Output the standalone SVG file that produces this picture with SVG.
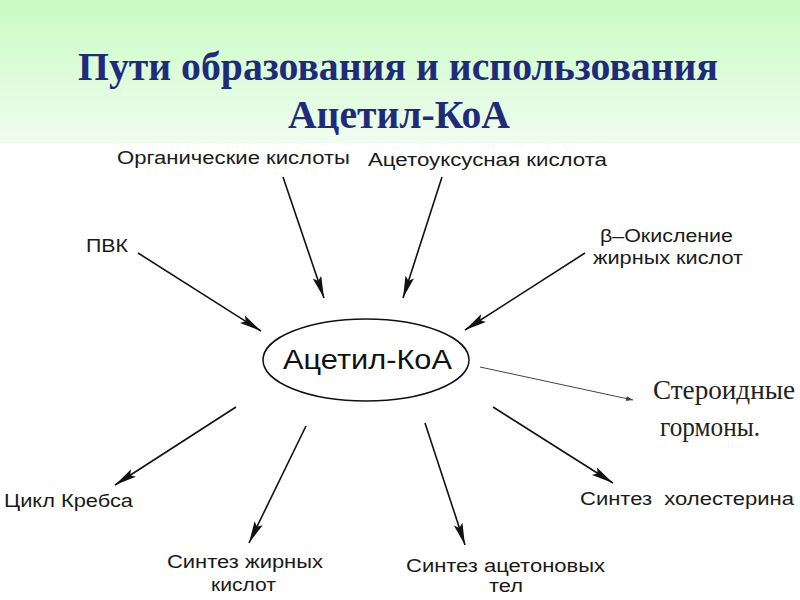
<svg xmlns="http://www.w3.org/2000/svg" width="800" height="600" viewBox="0 0 800 600">
<defs>
<linearGradient id="bg" x1="0" y1="0" x2="0" y2="1">
<stop offset="0" stop-color="#c8fcc2"/>
<stop offset="1" stop-color="#f0fdf0"/>
</linearGradient>
<marker id="ah" markerUnits="userSpaceOnUse" markerWidth="24" markerHeight="10" refX="22" refY="4.5" orient="auto">
<path d="M0,0 L22,4.5 L0,9 L4,4.5 z" fill="#111"/>
</marker>
<marker id="ahs" markerUnits="userSpaceOnUse" markerWidth="8" markerHeight="6" refX="7" refY="2.5" orient="auto">
<path d="M0,0 L7,2.5 L0,5 z" fill="#444"/>
</marker>
</defs>
<style>
.title{font-family:"Liberation Serif","Times New Roman",serif;font-weight:bold;font-size:41px;fill:#1f2a7a}
.lbl{font-family:"Liberation Sans",Arial,sans-serif;font-size:17.5px;fill:#1a1a1a}
.ser{font-family:"Liberation Serif","Times New Roman",serif;font-size:27px;fill:#222}
.arr{stroke:#111;stroke-width:1.6;fill:none;marker-end:url(#ah)}
.thin{stroke:#444;stroke-width:1;fill:none;marker-end:url(#ahs)}
</style>
<rect x="0" y="0" width="800" height="600" fill="#ffffff"/>
<rect x="0" y="0" width="800" height="143" fill="url(#bg)"/>
<g id="title">
<text class="title" x="78" y="80" textLength="640" lengthAdjust="spacingAndGlyphs">Пути образования и использования</text>
<text class="title" x="288" y="128" textLength="222" lengthAdjust="spacingAndGlyphs">Ацетил-КоА</text>
</g>
<g id="connectors">
<line class="arr" x1="283" y1="177" x2="324" y2="298"/>
<line class="arr" x1="442" y1="177" x2="403" y2="298"/>
<line class="arr" x1="138" y1="253" x2="261" y2="331"/>
<line class="arr" x1="585" y1="253" x2="465" y2="330"/>
<line class="thin" x1="480" y1="367" x2="633" y2="400"/>
<line class="arr" x1="236" y1="407" x2="115" y2="485"/>
<line class="arr" x1="306" y1="426" x2="249" y2="543"/>
<line class="arr" x1="425" y1="423" x2="465" y2="545"/>
<line class="arr" x1="493" y1="407" x2="613" y2="483"/>
</g>
<g id="acetyl-coa">
<ellipse cx="366" cy="360" rx="103" ry="41" fill="#ffffff" stroke="#111" stroke-width="1.5"/>
<text x="283" y="369" font-family="Liberation Sans, Arial, sans-serif" font-size="27" fill="#111" textLength="169" lengthAdjust="spacingAndGlyphs">Ацетил-КоА</text>
</g>
<g id="organic-acids">
<text class="lbl" x="117" y="164" textLength="233" lengthAdjust="spacingAndGlyphs">Органические кислоты</text>
</g>
<g id="acetoacetic-acid">
<text class="lbl" x="368" y="166" textLength="239" lengthAdjust="spacingAndGlyphs">Ацетоуксусная кислота</text>
</g>
<g id="pvk">
<text class="lbl" x="86" y="252" textLength="42" lengthAdjust="spacingAndGlyphs">ПВК</text>
</g>
<g id="beta-oxidation">
<text class="lbl" x="600" y="242" textLength="133" lengthAdjust="spacingAndGlyphs">β–Окисление</text>
<text class="lbl" x="593" y="264" textLength="150" lengthAdjust="spacingAndGlyphs">жирных кислот</text>
</g>
<g id="steroid-hormones">
<text class="ser" x="653" y="399" textLength="142" lengthAdjust="spacingAndGlyphs">Стероидные</text>
<text class="ser" x="660" y="436" textLength="100" lengthAdjust="spacingAndGlyphs">гормоны.</text>
</g>
<g id="krebs-cycle">
<text class="lbl" x="4" y="507" textLength="129" lengthAdjust="spacingAndGlyphs">Цикл Кребса</text>
</g>
<g id="fatty-acid-synthesis">
<text class="lbl" x="167" y="568" textLength="156" lengthAdjust="spacingAndGlyphs">Синтез жирных</text>
<text class="lbl" x="211" y="591" textLength="65" lengthAdjust="spacingAndGlyphs">кислот</text>
</g>
<g id="ketone-synthesis">
<text class="lbl" x="406" y="572" textLength="199" lengthAdjust="spacingAndGlyphs">Синтез ацетоновых</text>
<text class="lbl" x="489" y="592" textLength="34" lengthAdjust="spacingAndGlyphs">тел</text>
</g>
<g id="cholesterol-synthesis">
<text class="lbl" x="580" y="505" textLength="214" lengthAdjust="spacingAndGlyphs" xml:space="preserve">Синтез  холестерина</text>
</g>
</svg>
